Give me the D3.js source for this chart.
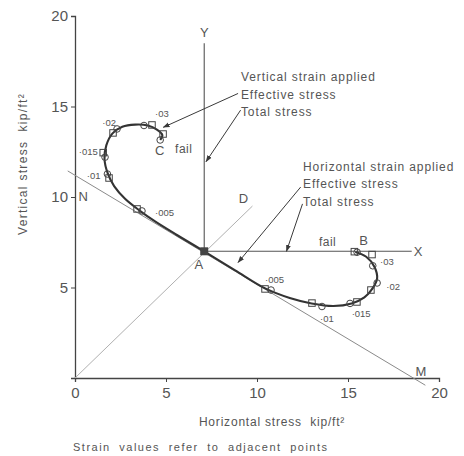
<!DOCTYPE html>
<html>
<head>
<meta charset="utf-8">
<script src="https://cdn.jsdelivr.net/npm/d3@7"></script>
<style>
  html, body { margin: 0; padding: 0; background: #fff; }
  svg text { font-family: "Liberation Sans", "DejaVu Sans", sans-serif; fill: #555; white-space: pre; }
</style>
</head>
<body>
<svg id="chart" width="464" height="456"></svg>
<script>
// ---------- data (stress values in kip/ft²) ----------
const xTicks = [0, 5, 10, 15, 20];
const yTicks = [5, 10, 15, 20];
const strainLabels = ["·005", "·01", "·015", "·02", "·03"];

// starting point A
const pointA = [7.1, 7.0];

// effective stress path, vertical strain applied (A -> C)
const verticalPath = [
  [7.1, 7.0], [5.6, 7.9], [4.4, 8.65], [3.55, 9.25], [2.75, 9.9], [2.15, 10.6],
  [1.8, 11.3], [1.62, 12.1], [1.72, 12.85], [2.05, 13.5], [2.6, 13.88], [3.3, 14.0],
  [4.0, 13.95], [4.5, 13.72], [4.8, 13.42], [4.68, 13.15]
];
// effective stress path, horizontal strain applied (A -> B)
const horizontalPath = [
  [7.1, 7.0], [8.8, 5.95], [10.45, 4.95], [11.8, 4.42], [13.0, 4.12], [14.2, 3.98],
  [15.2, 4.12], [15.9, 4.45], [16.35, 4.95], [16.6, 5.5], [16.45, 6.15], [16.0, 6.7],
  [15.4, 6.96]
];

// measured points (squares and circles)
const verticalSquares = [[3.41, 9.34], [1.87, 11.05], [1.55, 12.45], [2.09, 13.54], [4.23, 13.98], [4.84, 13.48]];
const verticalCircles = [[3.68, 9.23], [1.78, 11.27], [1.65, 12.2], [2.31, 13.76], [3.79, 13.95], [4.68, 13.15]];
const horizontalSquares = [[10.44, 4.92], [13.02, 4.14], [15.49, 4.2], [16.26, 4.86], [16.32, 6.82], [15.35, 6.98]];
const horizontalCircles = [[10.77, 4.86], [13.57, 3.95], [15.11, 4.12], [16.6, 5.25], [16.36, 6.2], [15.5, 6.95]];

// total stress paths and reference lines
const totalVertical = [[7.1, 7.0], [7.1, 18.5]];     // A -> Y
const totalHorizontal = [[7.1, 7.0], [18.5, 7.0]];   // A -> X
const lineOD = [[0, 0], [9.75, 9.5]];
const lineNM = [[-0.4, 11.44], [19.25, -0.4]];

// ---------- annotation anchors (data units) ----------
const strainLabelAnchors = [
  { i: 0, x: 4.4, y: 8.95, a: "start" }, { i: 1, x: 1.4, y: 11.0, a: "end" },
  { i: 2, x: 1.25, y: 12.33, a: "end" }, { i: 3, x: 1.5, y: 13.92, a: "start" },
  { i: 4, x: 4.4, y: 14.42, a: "start" },
  { i: 0, x: 10.44, y: 5.25, a: "start" }, { i: 1, x: 13.46, y: 3.09, a: "start" },
  { i: 2, x: 15.2, y: 3.37, a: "start" }, { i: 3, x: 17.1, y: 4.86, a: "start" },
  { i: 4, x: 16.76, y: 6.24, a: "start" }
];
const letterLabels = [
  { t: "A", x: 6.8, y: 6.0 }, { t: "B", x: 15.85, y: 7.35 }, { t: "C", x: 4.65, y: 12.3 },
  { t: "N", x: 0.45, y: 9.8 }, { t: "M", x: 19.0, y: 0.1 }, { t: "D", x: 9.25, y: 9.65 },
  { t: "Y", x: 7.1, y: 18.85 }, { t: "X", x: 18.85, y: 6.75 }
];
const failLabels = [{ x: 5.5, y: 12.45 }, { x: 13.4, y: 7.3 }];
const textBlocks = [
  { x: 9.12, y: 16.4, lines: ["Vertical strain applied", "Effective stress", "Total stress"] },
  { x: 12.53, y: 11.45, lines: ["Horizontal strain applied", "Effective stress", "Total stress"] }
];
const leaders = [
  [[8.96, 15.72], [4.85, 13.85]],
  [[9.1, 14.8], [7.2, 11.95]],
  [[12.4, 10.55], [8.96, 6.38]],
  [[12.5, 9.62], [11.62, 7.0]]
];

// ---------- drawing ----------
const svg = d3.select("#chart");
const x = d3.scaleLinear().domain([0, 20]).range([75, 439]);
const y = d3.scaleLinear().domain([0, 20]).range([378, 16]);
const ink = "#3a3a3a";

svg.append("defs").append("marker")
  .attr("id", "arr").attr("viewBox", "0 0 10 10").attr("refX", 9).attr("refY", 5)
  .attr("markerWidth", 7).attr("markerHeight", 7).attr("orient", "auto")
  .append("path").attr("d", "M0,1.5 L10,5 L0,8.5 Z").attr("fill", ink);

const line = d3.line().x(d => x(d[0])).y(d => y(d[1]));

// axes
const xAxis = svg.append("g").attr("transform", `translate(0,${y(0)})`)
  .call(d3.axisBottom(x).tickValues(xTicks).tickSize(4).tickPadding(5));
const yAxis = svg.append("g").attr("transform", `translate(${x(0)},0)`)
  .call(d3.axisLeft(y).tickValues(yTicks).tickSize(4).tickPadding(3));
[xAxis, yAxis].forEach(g => {
  g.select(".domain").attr("stroke", "#444").attr("stroke-width", 1.3);
  g.selectAll(".tick line").attr("stroke", "#444");
  g.selectAll(".tick text").attr("fill", "#555").style("font-size", "15px")
    .style("font-family", "Liberation Sans, sans-serif");
});

// reference lines
svg.append("path").datum(lineOD).attr("d", line).attr("fill", "none")
  .attr("stroke", "#b0b0b0").attr("stroke-width", 1);
svg.append("path").datum(lineNM).attr("d", line).attr("fill", "none")
  .attr("stroke", "#8a8a8a").attr("stroke-width", 1);
svg.append("path").datum(totalVertical).attr("d", line).attr("fill", "none")
  .attr("stroke", "#555").attr("stroke-width", 1.1);
svg.append("path").datum(totalHorizontal).attr("d", line).attr("fill", "none")
  .attr("stroke", "#555").attr("stroke-width", 1.1);

// effective stress paths
const curve = d3.line().x(d => x(d[0])).y(d => y(d[1])).curve(d3.curveCatmullRom.alpha(0.5));
[verticalPath, horizontalPath].forEach(p => {
  svg.append("path").datum(p).attr("d", curve).attr("fill", "none")
    .attr("stroke", "#333").attr("stroke-width", 2.1).attr("stroke-linejoin", "round");
});

// markers
const sq = 6.5;
svg.append("g").selectAll("rect").data(verticalSquares.concat(horizontalSquares)).join("rect")
  .attr("x", d => x(d[0]) - sq / 2).attr("y", d => y(d[1]) - sq / 2)
  .attr("width", sq).attr("height", sq).attr("fill", "none").attr("stroke", "#444").attr("stroke-width", 1);
svg.append("g").selectAll("circle").data(verticalCircles.concat(horizontalCircles)).join("circle")
  .attr("cx", d => x(d[0])).attr("cy", d => y(d[1])).attr("r", 3.3)
  .attr("fill", "none").attr("stroke", "#444").attr("stroke-width", 1);
svg.append("rect").attr("x", x(pointA[0]) - 4).attr("y", y(pointA[1]) - 4)
  .attr("width", 8).attr("height", 8).attr("fill", "#444");

// leaders
leaders.forEach(l => {
  svg.append("path").datum(l).attr("d", line).attr("stroke", ink).attr("stroke-width", 1)
    .attr("fill", "none").attr("marker-end", "url(#arr)");
});

// strain labels
svg.append("g").selectAll("text").data(strainLabelAnchors).join("text")
  .attr("x", d => x(d.x)).attr("y", d => y(d.y)).attr("text-anchor", d => d.a)
  .style("font-size", "9.5px").text(d => strainLabels[d.i]);

// letter labels
svg.append("g").selectAll("text").data(letterLabels).join("text")
  .attr("x", d => x(d.x)).attr("y", d => y(d.y)).attr("text-anchor", "middle")
  .style("font-size", "13px").text(d => d.t);

svg.append("g").selectAll("text").data(failLabels).join("text")
  .attr("x", d => x(d.x)).attr("y", d => y(d.y))
  .style("font-size", "12px").style("letter-spacing", "0.5px").text("fail");

// text blocks
textBlocks.forEach(b => {
  b.lines.forEach((t, i) => {
    svg.append("text").attr("x", x(b.x)).attr("y", y(b.y) + i * 17.5)
      .style("font-size", "12px").style("letter-spacing", "0.9px").text(t);
  });
});

// axis titles
svg.append("text").attr("transform", `translate(27,${(y(0) + y(20)) / 2 - 33}) rotate(-90)`)
  .attr("text-anchor", "middle").style("font-size", "12px").style("letter-spacing", "1.3px")
  .text("Vertical stress  kip/ft²");
svg.append("text").attr("x", 272).attr("y", 426).attr("text-anchor", "middle")
  .style("font-size", "12px").style("letter-spacing", "0.8px")
  .text("Horizontal stress  kip/ft²");
svg.append("text").attr("x", 73).attr("y", 451)
  .style("font-size", "11px").style("letter-spacing", "1.5px").style("word-spacing", "4px")
  .text("Strain values refer to adjacent points");
</script>
</body>
</html>
